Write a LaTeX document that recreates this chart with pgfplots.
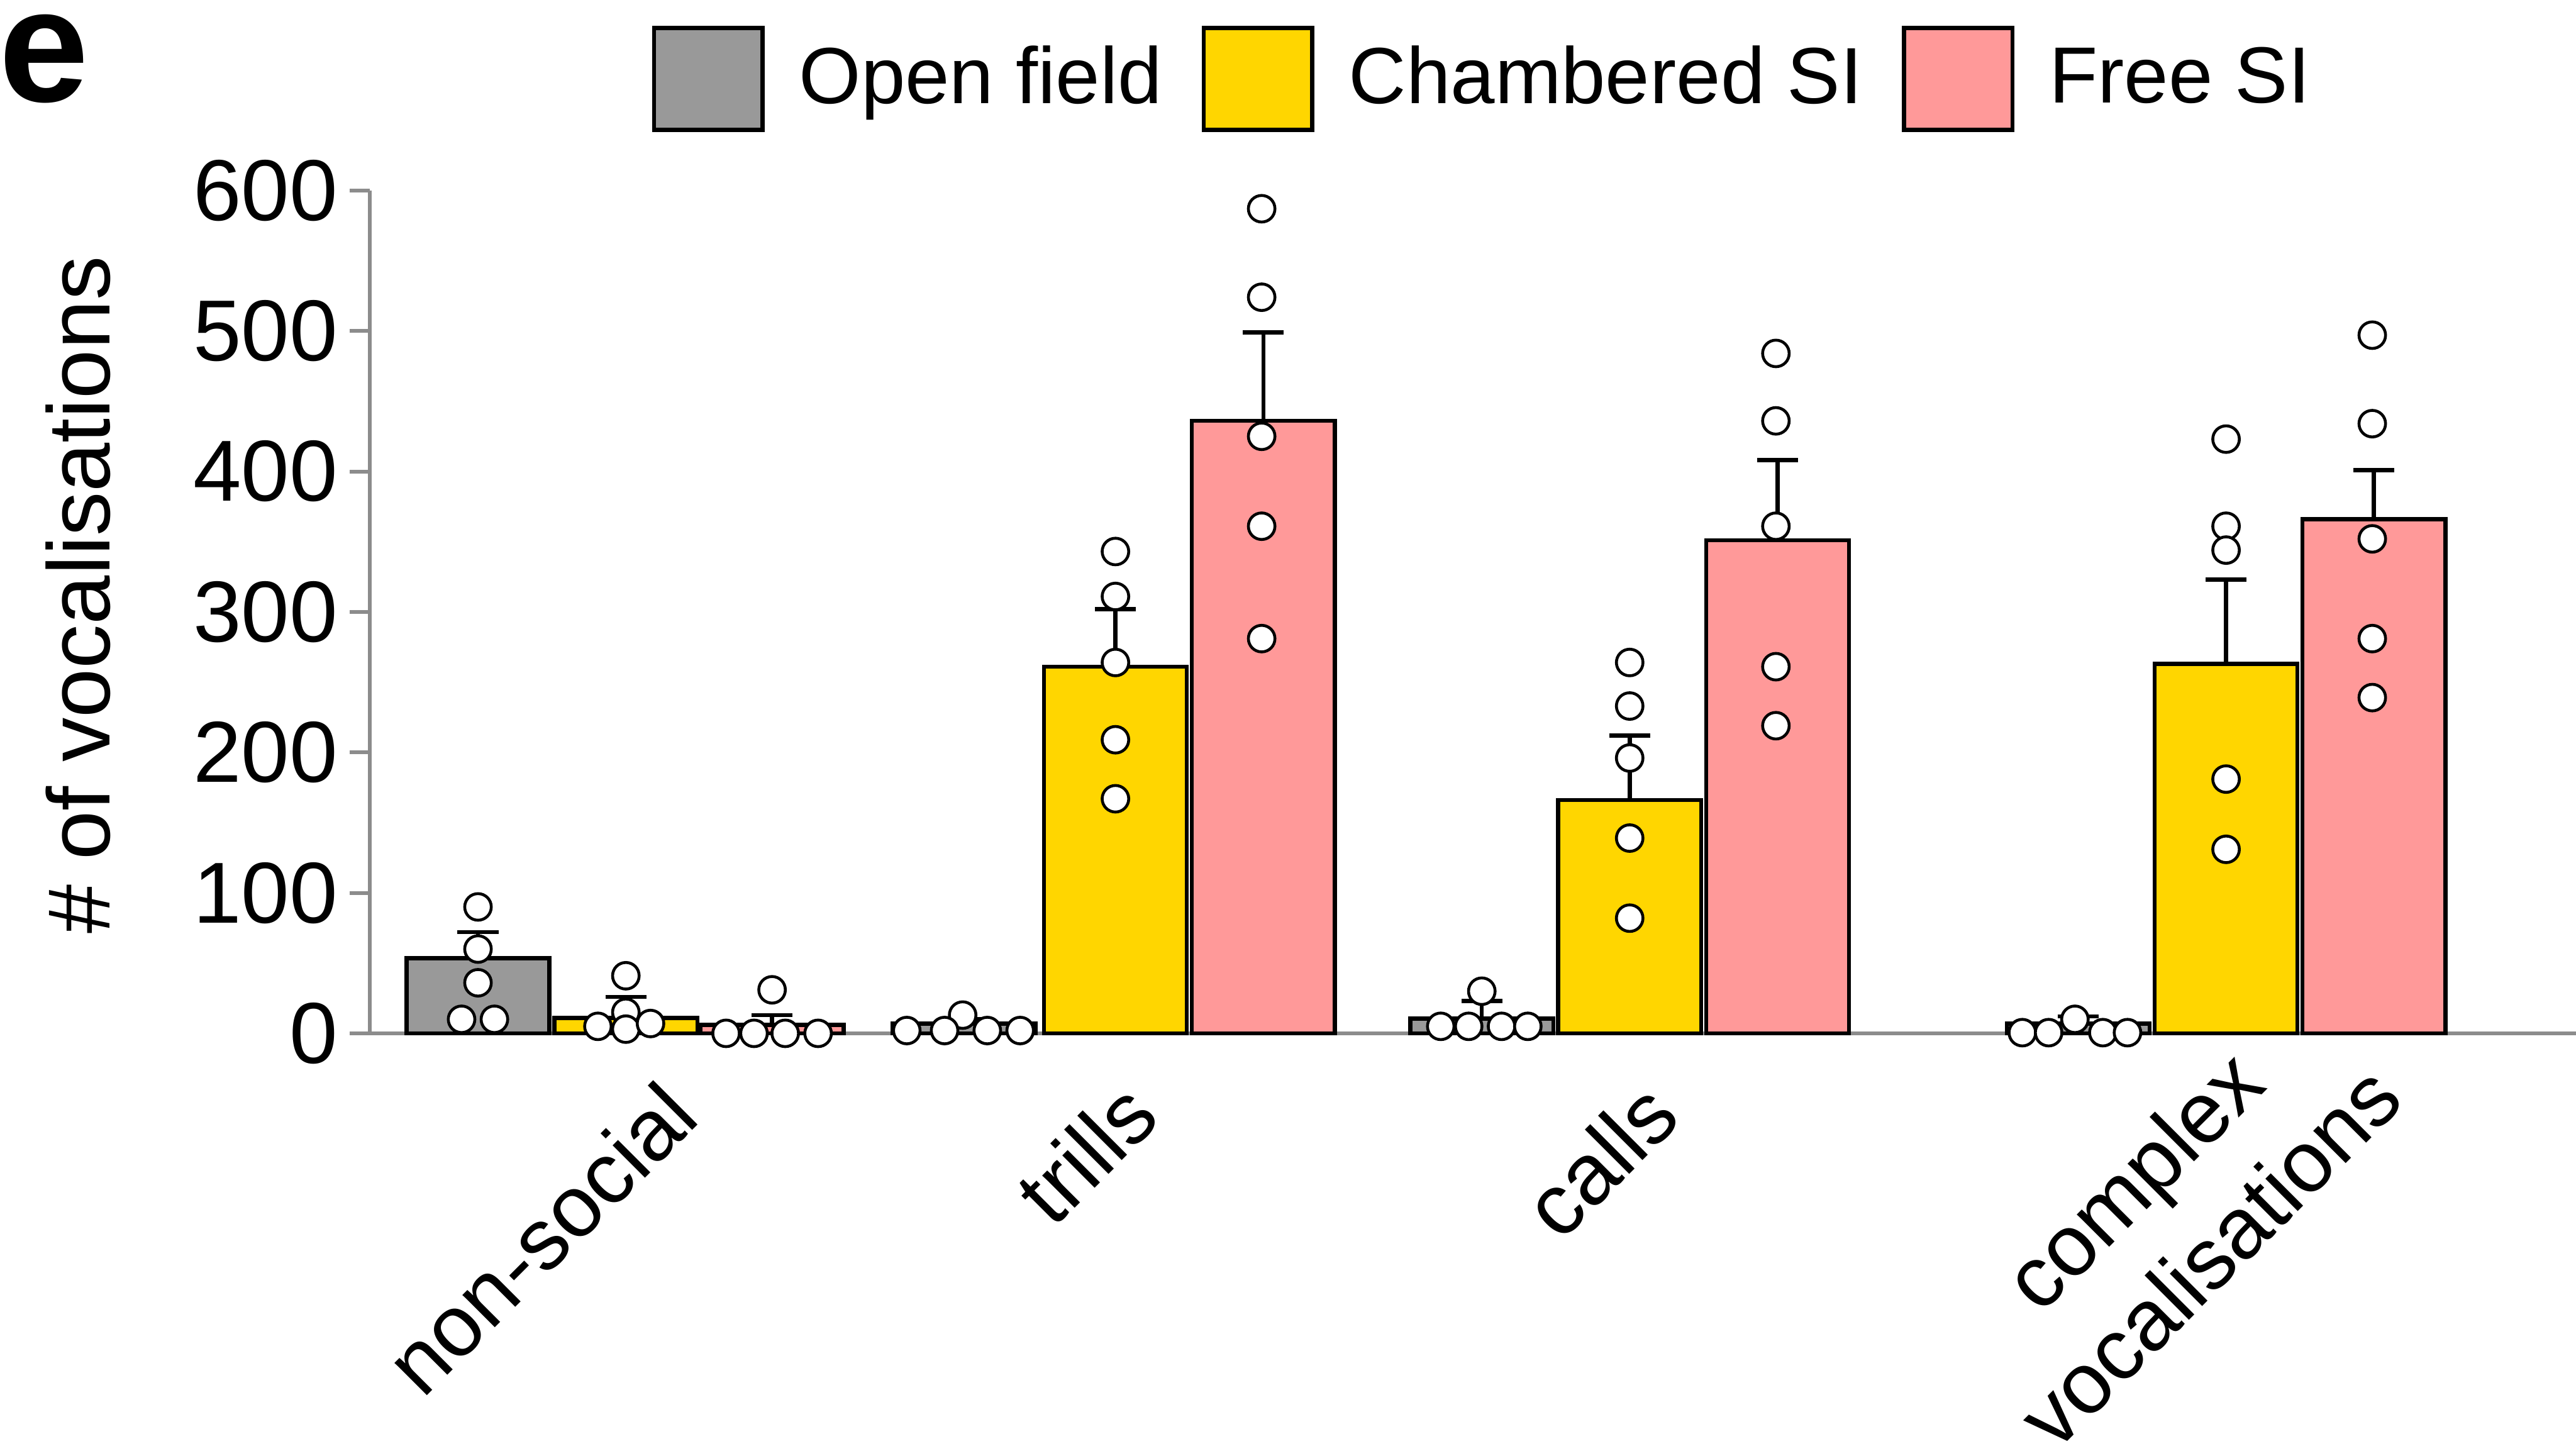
\documentclass[border=0pt]{standalone}
\usepackage{fontspec}
\setmainfont{Liberation Sans}
\usepackage{pgfplots}
\pgfplotsset{compat=1.18}
\definecolor{ofgray}{RGB}{153,153,153}
\definecolor{csyellow}{RGB}{255,214,0}
\definecolor{fspink}{RGB}{255,153,153}
\definecolor{axgray}{RGB}{140,140,140}
\pgfplotsset{
  mybar/.style={ybar, bar shift=0pt, bar width=87, draw=black, line width=0.7pt,
    error bars/.cd, y dir=plus, y explicit,
    error bar style={black, line width=0.7pt},
    error mark options={rotate=90, black, line width=0.7pt, mark size=1.25mm},
    /pgfplots/.cd,
    legend image code/.code={\draw[##1, line width=0.7pt] (0mm,-3.1mm) rectangle (6.6mm,3.1mm);}},
  pts/.style={only marks, mark=*, mark size=2.3pt,
    mark options={fill=white, draw=black, line width=0.5pt}, forget plot},
}
\begin{document}
\begin{tikzpicture}
\begin{axis}[
  scale only axis, width=134.3mm, height=51.3mm,
  xmin=225, xmax=1568, ymin=0, ymax=600,
  clip=false,
  axis x line*=bottom, axis y line*=left,
  axis line style={axgray, line width=0.65pt, -},
  xtick={404,684,1001},
  xticklabels={non-social,trills,calls},
  extra x ticks={1452},
  extra x tick labels={{complex\\vocalisations}},
  extra x tick style={xticklabel style={yshift=8.1mm}},
  x tick style={draw=none},
  xticklabel style={rotate=45, anchor=north east, align=center,
    font=\fontsize{15}{18.7}\selectfont, yshift=0.5mm},
  ytick={0,100,...,600},
  y tick style={axgray, line width=0.65pt},
  tick align=outside, major tick length=1.2mm,
  yticklabel style={font=\fontsize{15}{18}\selectfont, xshift=0.5mm},
  /pgf/number format/assume math mode=true,
  ylabel={\# of vocalisations},
  ylabel style={at={(axis description cs:-0.132,0.52)}, anchor=center,
    font=\fontsize{15.3}{18}\selectfont},
  legend style={at={(0.128,1.195)}, anchor=north west, legend columns=3,
    draw=none, fill=none, inner sep=0pt, outer sep=0pt,
    font=\fontsize{13.8}{16}\selectfont,
    /tikz/every odd column/.append style={column sep=1.4mm},
    /tikz/every even column/.append style={column sep=1.7mm}},
  legend cell align=left,
]
% bars: mean +- SEM
\addplot[mybar, fill=ofgray] coordinates {
  (291,53.5) +- (0,18.5)
  (587,7) +- (0,3)
  (902,10.5) +- (0,12.5)
  (1265,7) +- (0,5)
};
\addlegendentry{Open field}
\addplot[mybar, fill=csyellow] coordinates {
  (381,11) +- (0,15)
  (679,261) +- (0,41)
  (992,166) +- (0,46)
  (1355,263) +- (0,60)
};
\addlegendentry{Chambered SI}
\addplot[mybar, fill=fspink] coordinates {
  (470,6) +- (0,7)
  (769,436) +- (0,63)
  (1082,351) +- (0,57)
  (1445,366) +- (0,35)
};
\addlegendentry{Free SI}
% individual animals
\addplot[pts] coordinates {
  (291,90) (291,60) (291,36) (281,10) (301,10)
  (586,13) (552,2) (575,2) (601,2) (621,2)
  (902,30) (877,5) (894,5) (914,5) (930,5)
  (1263,10) (1231,0.5) (1247,0.5) (1280,0.5) (1295,0.5)
};
\addplot[pts] coordinates {
  (381,41) (381,15) (381,3) (364,5) (396,7)
  (679,343) (679,311) (679,264) (679,209) (679,167)
  (992,264) (992,233) (992,196) (992,139) (992,82)
  (1355,423) (1355,361) (1355,344) (1355,181) (1355,131)
};
\addplot[pts] coordinates {
  (470,31) (442,0) (459,0) (478,0) (498,0)
  (768,587) (768,524) (768,425) (768,361) (768,281)
  (1081,484) (1081,436) (1081,361) (1081,261) (1081,219)
  (1444,497) (1444,434) (1444,352) (1444,281) (1444,239)
};
\node[font=\bfseries\fontsize{28}{30}\selectfont, anchor=north west, inner sep=0pt]
  at (rel axis cs:-0.1685,1.210) {e};
\coordinate (bbSW) at (rel axis cs:-0.1675,-0.495);
\coordinate (bbNE) at (rel axis cs:1,1.226);
\end{axis}
\pgfresetboundingbox
\path (bbSW) rectangle (bbNE);
\end{tikzpicture}
\end{document}
